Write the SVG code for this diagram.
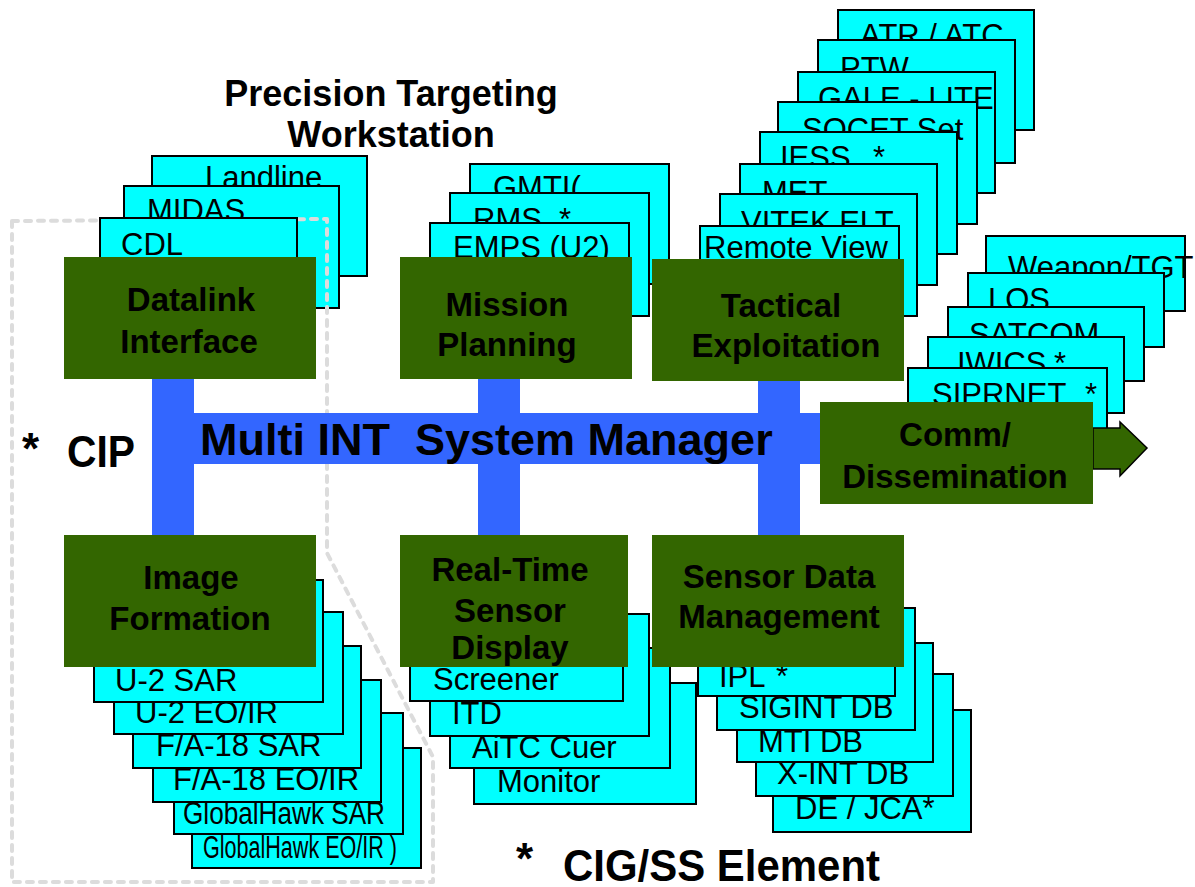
<svg xmlns="http://www.w3.org/2000/svg" width="1195" height="887" viewBox="0 0 1195 887">
<style>
.c{fill:#00FFFF;stroke:#000;stroke-width:2}
.g{fill:#336600}
.b{fill:#3366FF}
.t{font-family:"Liberation Sans",Arial,sans-serif;font-size:31px;fill:#000}
.gt{font-family:"Liberation Sans",Arial,sans-serif;font-size:33px;font-weight:bold;fill:#000;text-anchor:middle}
.h{font-family:"Liberation Sans",Arial,sans-serif;font-weight:bold;fill:#000}
.d{fill:none;stroke:#dcdcdc;stroke-width:4;stroke-dasharray:6 7;stroke-linecap:round;stroke-linejoin:round}
</style>
<rect width="1195" height="887" fill="#fff"/>

<!-- top-left stack (back) -->
<g id="landline"><rect class="c" x="152" y="156" width="215" height="120"/><text class="t" x="205" y="188">Landline</text></g>
<g id="midas"><rect class="c" x="124" y="186" width="215" height="122"/><text class="t" x="147" y="221">MIDAS</text></g>

<!-- dashed CIP frame -->
<path id="cip-frame" class="d" d="M12,221 L327,219 L327,553 L433,757 L433,882 L12,882 Z"/>

<g id="cdl"><rect class="c" x="100" y="218" width="197" height="112"/><text class="t" x="121" y="255">CDL</text></g>

<!-- top-middle stack -->
<g id="gmti"><rect class="c" x="470" y="164" width="199" height="120"/><text class="t" x="493" y="198">GMTI(</text></g>
<g id="rms"><rect class="c" x="450" y="193" width="199" height="123"/><text class="t" x="473" y="230">RMS<tspan x="559">*</tspan></text></g>
<g id="emps"><rect class="c" x="430" y="223" width="199" height="110"/><text class="t" x="453" y="258">EMPS (U2)</text></g>

<!-- top-right stack -->
<g id="atr"><rect class="c" x="838" y="10" width="196" height="120"/><text class="t" x="860" y="46">ATR / ATC</text></g>
<g id="ptw"><rect class="c" x="818" y="40" width="197" height="123"/><text class="t" x="840" y="79">PTW</text></g>
<g id="gale"><rect class="c" x="798" y="72" width="197" height="121"/><text class="t" x="818" y="109">GALE - LITE</text></g>
<g id="socet"><rect class="c" x="778" y="102" width="199" height="122"/><text class="t" x="802" y="140">SOCET Set</text></g>
<g id="iess"><rect class="c" x="760" y="132" width="197" height="122"/><text class="t" x="780" y="168">IESS<tspan x="873">*</tspan></text></g>
<g id="met"><rect class="c" x="740" y="164" width="197" height="121"/><text class="t" x="762" y="203">MET</text></g>
<g id="vitek"><rect class="c" x="720" y="194" width="197" height="122"/><text class="t" x="741" y="233">VITEK ELT</text></g>
<g id="remote-view"><rect class="c" x="700" y="226" width="199" height="110"/><text class="t" x="704" y="258">Remote View</text></g>

<!-- right stack -->
<g id="weapon"><rect class="c" x="986" y="236" width="199" height="75"/><text class="t" x="1008" y="278">Weapon/TGT</text></g>
<g id="los"><rect class="c" x="968" y="273" width="196" height="74"/><text class="t" x="988" y="310">LOS</text></g>
<g id="satcom"><rect class="c" x="948" y="307" width="196" height="74"/><text class="t" x="969" y="345">SATCOM</text></g>
<g id="iwics"><rect class="c" x="928" y="337" width="196" height="76"/><text class="t" x="957" y="374">IWICS<tspan x="1054">*</tspan></text></g>
<g id="siprnet"><rect class="c" x="908" y="368" width="199" height="76"/><text class="t" x="932" y="405">SIPRNET<tspan x="1085">*</tspan></text></g>

<!-- bottom-left stack (back to front) -->
<g id="gh-eoir"><rect class="c" x="192" y="748" width="229" height="120"/><text class="t" x="203" y="858" font-size="23" textLength="194" lengthAdjust="spacingAndGlyphs">GlobalHawk EO/IR )</text></g>
<g id="gh-sar"><rect class="c" x="174" y="713" width="229" height="121"/><text class="t" x="183" y="824" font-size="28" textLength="202" lengthAdjust="spacingAndGlyphs">GlobalHawk SAR</text></g>
<g id="fa18-eoir"><rect class="c" x="153" y="680" width="228" height="122"/><text class="t" x="173" y="790">F/A-18 EO/IR</text></g>
<g id="fa18-sar"><rect class="c" x="133" y="646" width="228" height="122"/><text class="t" x="156" y="756">F/A-18 SAR</text></g>
<g id="u2-eoir"><rect class="c" x="114" y="612" width="229" height="122"/><text class="t" x="135" y="723">U-2 EO/IR</text></g>
<g id="u2-sar"><rect class="c" x="94" y="580" width="229" height="122"/><text class="t" x="115" y="691">U-2 SAR</text></g>

<!-- bottom-middle stack -->
<g id="monitor"><rect class="c" x="474" y="683" width="222" height="121"/><text class="t" x="497" y="792">Monitor</text></g>
<g id="aitc"><rect class="c" x="450" y="648" width="220" height="120"/><text class="t" x="472" y="758">AiTC Cuer</text></g>
<g id="itd"><rect class="c" x="430" y="614" width="219" height="122"/><text class="t" x="452" y="724">ITD</text></g>
<g id="screener"><rect class="c" x="410" y="580" width="213" height="121"/><text class="t" x="433" y="690">Screener</text></g>

<!-- bottom-right stack -->
<g id="de-jca"><rect class="c" x="773" y="710" width="198" height="122"/><text class="t" x="795" y="819">DE / JCA*</text></g>
<g id="xint"><rect class="c" x="756" y="674" width="197" height="122"/><text class="t" x="777" y="784">X-INT DB</text></g>
<g id="mti"><rect class="c" x="737" y="643" width="196" height="119"/><text class="t" x="758" y="752">MTI DB</text></g>
<g id="sigint"><rect class="c" x="717" y="608" width="198" height="122"/><text class="t" x="739" y="718">SIGINT DB</text></g>
<g id="ipl"><rect class="c" x="698" y="575" width="197" height="121"/><text class="t" x="719" y="687">IPL<tspan x="776">*</tspan></text></g>

<!-- connectors: system manager bus -->
<g id="connectors">
<rect class="b" x="152" y="413" width="668" height="51"/>
<rect class="b" x="152" y="379" width="42" height="156"/>
<rect class="b" x="478" y="379" width="42" height="156"/>
<rect class="b" x="758" y="380" width="42" height="155"/>
<polygon points="1093,428 1120,428 1120,422 1147,448 1120,476 1120,469 1093,469" fill="#336600" stroke="#000" stroke-width="1.5"/>
</g>

<!-- green function nodes -->
<g id="datalink"><rect class="g" x="64" y="257" width="252" height="122"/><text class="gt" x="191" y="311">Datalink</text><text class="gt" x="189" y="353">Interface</text></g>
<g id="mission"><rect class="g" x="400" y="257" width="232" height="122"/><text class="gt" x="507" y="316">Mission</text><text class="gt" x="507" y="356">Planning</text></g>
<g id="tactical"><rect class="g" x="652" y="259" width="252" height="122"/><text class="gt" x="781" y="317">Tactical</text><text class="gt" x="786" y="357">Exploitation</text></g>
<g id="comm"><rect class="g" x="820" y="402" width="273" height="102"/><text class="gt" x="955" y="446">Comm/</text><text class="gt" x="955" y="488">Dissemination</text></g>
<g id="image-formation"><rect class="g" x="64" y="535" width="252" height="132"/><text class="gt" x="191" y="589">Image</text><text class="gt" x="190" y="630">Formation</text></g>
<g id="realtime"><rect class="g" x="400" y="535" width="228" height="132"/><text class="gt" x="510" y="581">Real-Time</text><text class="gt" x="510" y="622">Sensor</text><text class="gt" x="510" y="659">Display</text></g>
<g id="sdm"><rect class="g" x="652" y="535" width="252" height="132"/><text class="gt" x="779" y="588">Sensor Data</text><text class="gt" x="779" y="628">Management</text></g>

<!-- labels -->
<text class="h" x="200" y="455" font-size="45">Multi INT</text>
<text class="h" x="415" y="455" font-size="45">System Manager</text>
<text class="h" x="391" y="106" font-size="36" text-anchor="middle">Precision Targeting</text>
<text class="h" x="391" y="147" font-size="36" text-anchor="middle">Workstation</text>
<text class="h" x="22" y="464" font-size="44">*</text>
<text class="h" x="67" y="467" font-size="44" textLength="68" lengthAdjust="spacingAndGlyphs">CIP</text>
<text class="h" x="516" y="874" font-size="44">*</text>
<text class="h" x="563" y="881" font-size="44" textLength="317" lengthAdjust="spacingAndGlyphs">CIG/SS Element</text>
</svg>
